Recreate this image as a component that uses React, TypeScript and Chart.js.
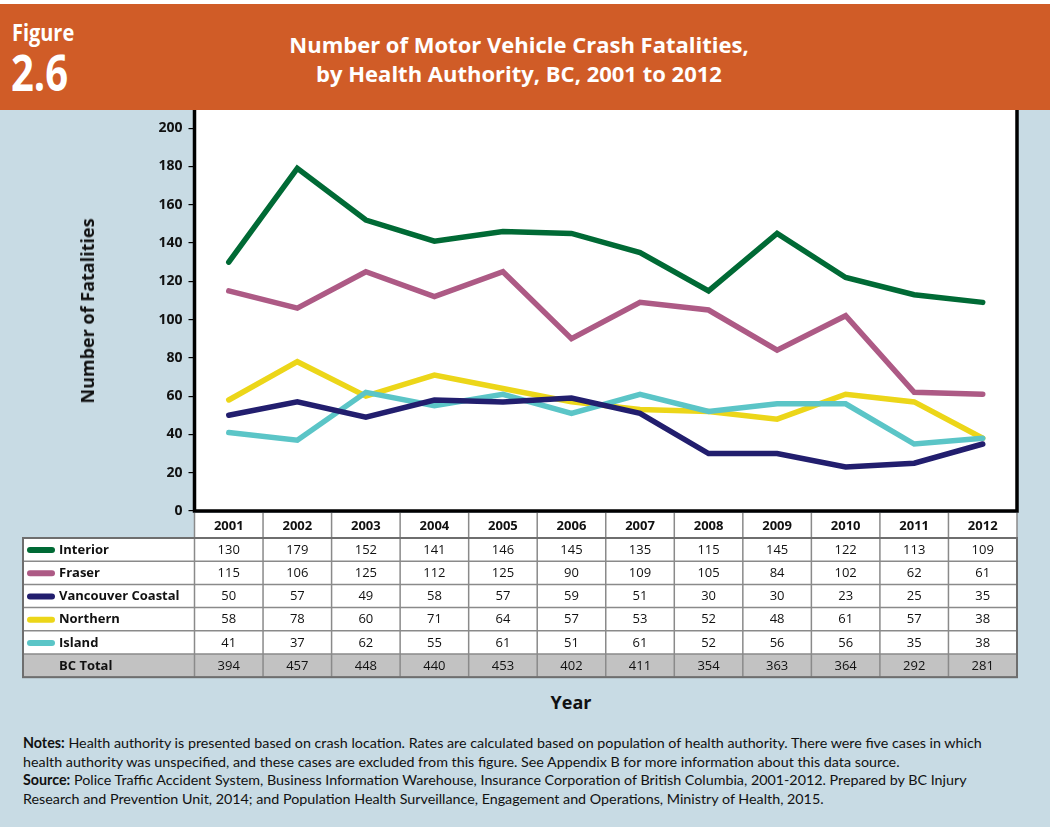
import React, { useEffect, useRef } from "react";
import { Chart, registerables } from "chart.js";

Chart.register(...registerables);

const years = ["2001", "2002", "2003", "2004", "2005", "2006", "2007", "2008", "2009", "2010", "2011", "2012"];
const interior = [130, 179, 152, 141, 146, 145, 135, 115, 145, 122, 113, 109];
const fraser = [115, 106, 125, 112, 125, 90, 109, 105, 84, 102, 62, 61];
const vancouverCoastal = [50, 57, 49, 58, 57, 59, 51, 30, 30, 23, 25, 35];
const northern = [58, 78, 60, 71, 64, 57, 53, 52, 48, 61, 57, 38];
const island = [41, 37, 62, 55, 61, 51, 61, 52, 56, 56, 35, 38];
const bcTotal = [394, 457, 448, 440, 453, 402, 411, 354, 363, 364, 292, 281];
const yTickValues = [0, 20, 40, 60, 80, 100, 120, 140, 160, 180, 200];

const seriesNames = ["Interior", "Fraser", "Vancouver Coastal", "Northern", "Island"];
const seriesData = [interior, fraser, vancouverCoastal, northern, island];
const seriesColors = ["#006a35", "#ad5a85", "#221e6e", "#ecd619", "#5bc5c7"];
const seriesOrder = [0, 1, 2, 4, 3];

const FONT = "'Open Sans', 'DejaVu Sans', sans-serif";

const tablePlugin = {
  id: "boxAndTable",
  beforeDraw(chart: any) {
    const { ctx, chartArea } = chart;
    ctx.save();
    ctx.fillStyle = "#ffffff";
    ctx.fillRect(chartArea.left, 0, chartArea.right - chartArea.left, chartArea.bottom);
    ctx.restore();
  },
  afterDraw(chart: any) {
    const { ctx, chartArea } = chart;
    const xs = chart.scales.x;
    const left = chartArea.left;
    const right = chartArea.right;
    const bottom = chartArea.bottom;
    const colW = (right - left) / years.length;
    ctx.save();
    ctx.strokeStyle = "#000";
    ctx.lineWidth = 3.5;
    ctx.beginPath();
    ctx.moveTo(left, 0);
    ctx.lineTo(left, bottom);
    ctx.lineTo(right, bottom);
    ctx.lineTo(right, 0);
    ctx.stroke();

    const headerTop = bottom + 2;
    const headerBottom = bottom + 27;
    const rowH = 23.2;
    const labelLeft = 23;
    const nRows = 6;
    const tableBottom = headerBottom + rowH * nRows;

    ctx.fillStyle = "#ffffff";
    ctx.fillRect(left, headerTop, right - left, headerBottom - headerTop);
    ctx.fillRect(labelLeft, headerBottom, right - labelLeft, rowH * 5);
    ctx.fillStyle = "#c2c2c2";
    ctx.fillRect(labelLeft, headerBottom + rowH * 5, right - labelLeft, rowH);

    ctx.strokeStyle = "#8a8a8a";
    ctx.lineWidth = 1.5;
    ctx.beginPath();
    for (let r = 0; r <= nRows; r++) {
      const y = headerBottom + rowH * r;
      ctx.moveTo(labelLeft, y);
      ctx.lineTo(right, y);
    }
    for (let i = 0; i <= years.length; i++) {
      const x = left + colW * i;
      ctx.moveTo(x, headerTop);
      ctx.lineTo(x, tableBottom);
    }
    ctx.moveTo(labelLeft, headerBottom);
    ctx.lineTo(labelLeft, tableBottom);
    ctx.stroke();

    ctx.strokeStyle = "#6e6e6e";
    ctx.lineWidth = 2;
    ctx.strokeRect(labelLeft, headerBottom, right - labelLeft, tableBottom - headerBottom);

    ctx.fillStyle = "#111";
    ctx.textAlign = "center";
    ctx.textBaseline = "middle";
    ctx.font = `bold 13px ${FONT}`;
    years.forEach((yr, i) => {
      ctx.fillText(yr, xs.getPixelForValue(i), (headerTop + headerBottom) / 2 + 1);
    });

    const rows = [...seriesData, bcTotal];
    const names = [...seriesNames, "BC Total"];
    rows.forEach((vals, r) => {
      const cy = headerBottom + rowH * r + rowH / 2 + 0.5;
      ctx.font = `13px ${FONT}`;
      ctx.textAlign = "center";
      ctx.fillStyle = "#111";
      vals.forEach((v, i) => {
        ctx.fillText(String(v), xs.getPixelForValue(i), cy);
      });
      ctx.font = `bold 13px ${FONT}`;
      ctx.textAlign = "left";
      ctx.fillText(names[r], 59, cy);
      if (r < seriesColors.length) {
        ctx.strokeStyle = seriesColors[r];
        ctx.lineWidth = 6;
        ctx.lineCap = "round";
        ctx.beginPath();
        ctx.moveTo(30, cy);
        ctx.lineTo(52, cy);
        ctx.stroke();
      }
    });
    ctx.restore();
  },
};

export default function App() {
  const canvasRef = useRef<HTMLCanvasElement | null>(null);

  useEffect(() => {
    if (!canvasRef.current) return;
    const chart = new Chart(canvasRef.current, {
      type: "line",
      data: {
        labels: years,
        datasets: seriesNames.map((name, i) => ({
          label: name,
          data: seriesData[i],
          borderColor: seriesColors[i],
          backgroundColor: seriesColors[i],
          borderWidth: 5.5,
          borderCapStyle: "round" as const,
          borderJoinStyle: "miter" as const,
          pointRadius: 0,
          tension: 0,
          fill: false,
          order: seriesOrder[i],
        })),
      },
      options: {
        responsive: false,
        animation: false,
        devicePixelRatio: 1,
        layout: { padding: { left: 0, right: 33, top: 0, bottom: 179 } },
        plugins: { legend: { display: false }, tooltip: { enabled: false }, title: { display: false } },
        scales: {
          x: {
            type: "category",
            offset: true,
            display: false,
          },
          y: {
            min: 0,
            max: 209.5,
            grid: {
              drawOnChartArea: false,
              drawTicks: true,
              tickLength: 6,
              color: "#000",
              lineWidth: 1.2,
            },
            border: { display: false },
            ticks: {
              padding: 6,
              color: "#111",
              font: { family: FONT, size: 14, weight: "bold" },
            },
            afterBuildTicks: (scale: any) => {
              scale.ticks = yTickValues.map((v) => ({ value: v }));
            },
            afterFit: (scale: any) => {
              scale.width = 194.5;
              scale.paddingTop = 0;
              scale.paddingBottom = 0;
            },
          },
        },
      },
      plugins: [tablePlugin],
    } as any);
    return () => chart.destroy();
  }, []);

  return (
    <div
      style={{
        position: "absolute",
        left: 0,
        top: 0,
        width: 1050,
        height: 827,
        background: "#c8dbe4",
        overflow: "hidden",
        fontFamily: FONT,
      }}
    >
      <div style={{ position: "absolute", left: 0, top: 0, width: 1050, height: 4, background: "#ffffff" }} />
      <div
        style={{
          position: "absolute",
          left: 0,
          top: 4,
          width: 1050,
          height: 106,
          background: "#d05c27",
          color: "#ffffff",
        }}
      >
        <div
          style={{
            position: "absolute",
            left: 12,
            top: 13,
            fontSize: 24,
            fontWeight: 700,
            lineHeight: "30px",
            transform: "scaleX(0.83)",
            transformOrigin: "left top",
            whiteSpace: "nowrap",
          }}
        >
          Figure
        </div>
        <div
          style={{
            position: "absolute",
            left: 11,
            top: 38,
            fontSize: 50,
            fontWeight: 700,
            lineHeight: "60px",
            transform: "scaleX(0.8)",
            transformOrigin: "left top",
            whiteSpace: "nowrap",
          }}
        >
          2.6
        </div>
        <div
          style={{
            position: "absolute",
            left: 219,
            width: 600,
            top: 26,
            textAlign: "center",
            fontSize: 22,
            fontWeight: 700,
            lineHeight: "29px",
            whiteSpace: "nowrap",
          }}
        >
          Number of Motor Vehicle Crash Fatalities,
          <br />
          by Health Authority, BC, 2001 to 2012
        </div>
      </div>
      <canvas
        ref={canvasRef}
        width={1050}
        height={580}
        style={{ position: "absolute", left: 0, top: 110, width: 1050, height: 580 }}
      />
      <div
        style={{
          position: "absolute",
          left: 87,
          top: 311,
          transform: "translate(-50%, -50%) rotate(-90deg)",
          fontSize: 18,
          fontWeight: 700,
          color: "#111",
          whiteSpace: "nowrap",
        }}
      >
        Number of Fatalities
      </div>
      <div
        style={{
          position: "absolute",
          left: 571,
          top: 702,
          transform: "translate(-50%, -50%)",
          fontSize: 18,
          fontWeight: 700,
          color: "#111",
          whiteSpace: "nowrap",
        }}
      >
        Year
      </div>
      <div
        style={{
          position: "absolute",
          left: 23,
          top: 734,
          fontFamily: "Lato, 'Open Sans', sans-serif",
          fontSize: 14.3,
          lineHeight: "18.5px",
          color: "#111",
          whiteSpace: "nowrap",
        }}
      >
        <b>Notes:</b> Health authority is presented based on crash location. Rates are calculated based on population of health authority. There were five cases in which
        <br />
        health authority was unspecified, and these cases are excluded from this figure. See Appendix B for more information about this data source.
        <br />
        <b>Source:</b> Police Traffic Accident System, Business Information Warehouse, Insurance Corporation of British Columbia, 2001-2012. Prepared by BC Injury
        <br />
        Research and Prevention Unit, 2014; and Population Health Surveillance, Engagement and Operations, Ministry of Health, 2015.
      </div>
    </div>
  );
}
